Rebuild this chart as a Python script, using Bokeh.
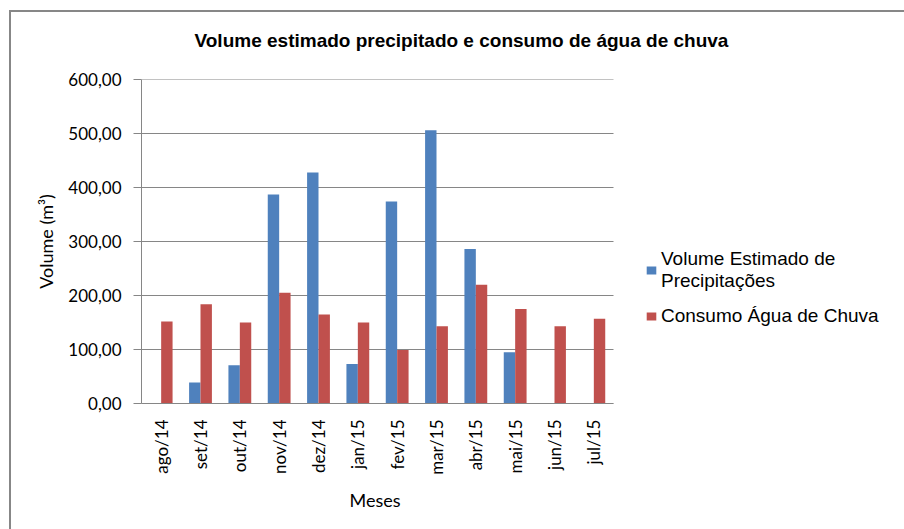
import math
from bokeh.plotting import figure
from bokeh.models import Range1d, Legend, LegendItem, FixedTicker, Title
from bokeh.embed import file_html
from bokeh.resources import INLINE

months = ["ago/14", "set/14", "out/14", "nov/14", "dez/14", "jan/15",
          "fev/15", "mar/15", "abr/15", "mai/15", "jun/15", "jul/15"]
precip = [0, 39, 71, 387, 428, 73, 374, 506, 286, 95, 0, 0]
consumo = [152, 184, 150, 205, 165, 150, 99, 143, 220, 175, 143, 157]
y_ticks = [0, 100, 200, 300, 400, 500, 600]
y_tick_labels = ["0,00", "100,00", "200,00", "300,00", "400,00", "500,00", "600,00"]

title_text = "Volume estimado precipitado e consumo de água de chuva"
x_title = "Meses"
y_title = "Volume (m³)"
series_names = ["Volume Estimado de\nPrecipitações", "Consumo Água de Chuva"]
colors = ["#4F81BD", "#C0504D"]

# layout (pixels)
W, H = 904, 529
LEFT, TOP, RIGHT, BOTTOM = 141, 79, 24, 126
cat_px = 472 / len(months)                 # width of one category slot
frame_w = W - LEFT - RIGHT
n = len(months)
x_lo = -0.5
x_hi = x_lo + frame_w / cat_px             # extra room on the right for the legend
bar_w = 0.29

idx = list(range(n))
p = figure(x_range=Range1d(x_lo, x_hi), y_range=Range1d(0, 600),
           width=W, height=H, output_backend="svg", toolbar_location=None,
           title=title_text,
           min_border_left=LEFT, min_border_right=RIGHT,
           min_border_top=TOP, min_border_bottom=BOTTOM)
p.border_fill_color = None
# chart-area border (left and top edges, as in the spreadsheet screenshot)
p.styles = {
    "background-color": "#ffffff",
    "background-image": "linear-gradient(#878787, #878787), linear-gradient(#878787, #878787)",
    "background-size": "2px 100%, 100% 2px",
    "background-position": "9px 10px, 9px 10px",
    "background-repeat": "no-repeat",
}

# horizontal gridlines over the category span only
p.segment(x0=[x_lo] * len(y_ticks), x1=[n - 0.5] * len(y_ticks), y0=y_ticks, y1=y_ticks,
          line_color="#868686", line_width=1)

xa = [i - bar_w / 2 for i in idx]
xb = [i + bar_w / 2 for i in idx]
r1 = p.vbar(x=xa, top=precip, width=bar_w, fill_color=colors[0], line_color=None)
r2 = p.vbar(x=xb, top=consumo, width=bar_w, fill_color=colors[1], line_color=None)

p.title.align = "left"
p.title.offset = 53
p.title.vertical_align = "top"
p.title.standoff = 54
p.title.text_font = "Liberation Sans"
p.title.text_font_size = "19px"
p.title.text_font_style = "bold"
p.title.text_color = "#000000"

p.outline_line_color = None
p.xgrid.grid_line_color = None
p.ygrid.grid_line_color = None

p.yaxis.ticker = FixedTicker(ticks=y_ticks)
p.yaxis.major_label_overrides = {t: l for t, l in zip(y_ticks, y_tick_labels)}
p.yaxis.axis_line_color = "#868686"
p.yaxis.major_tick_line_color = "#868686"
p.yaxis.major_tick_out = 8
p.yaxis.major_tick_in = 0
p.yaxis.minor_tick_line_color = None
p.yaxis.major_label_standoff = 12
p.yaxis.major_label_text_font = "Lato"
p.yaxis.major_label_text_font_size = "17px"
p.yaxis.major_label_text_color = "#000000"
p.yaxis.axis_label = y_title
p.yaxis.axis_label_text_font = "Lato"
p.yaxis.axis_label_text_font_size = "18px"
p.yaxis.axis_label_text_font_style = "normal"
p.yaxis.axis_label_text_color = "#000000"
p.yaxis.axis_label_standoff = 8

p.xaxis.bounds = (x_lo, n - 0.5)
p.xaxis.ticker = FixedTicker(ticks=idx)
p.xaxis.major_label_overrides = {i: m for i, m in zip(idx, months)}
p.xaxis.axis_line_color = "#868686"
p.xaxis.major_tick_line_color = None
p.xaxis.minor_tick_line_color = None
p.xaxis.major_tick_out = 0
p.xaxis.major_label_orientation = math.pi / 2
p.xaxis.major_label_standoff = 16
p.xaxis.major_label_text_font = "Lato"
p.xaxis.major_label_text_font_size = "17px"
p.xaxis.major_label_text_color = "#000000"

# x-axis title centred under the category span (not the whole frame)
xt = Title(text=x_title, align="left", offset=208, vertical_align="top", standoff=22,
           text_font="Lato", text_font_size="18px", text_font_style="normal",
           text_color="#000000")
p.add_layout(xt, "below")

legend = Legend(items=[LegendItem(label=series_names[0], renderers=[r1]),
                       LegendItem(label=series_names[1], renderers=[r2])],
                location=(504, 76), orientation="vertical",
                glyph_width=12, glyph_height=10, label_standoff=4,
                label_text_font="Liberation Sans", label_text_font_size="19px",
                label_text_line_height=1.2,
                label_text_color="#000000", spacing=13, padding=0, margin=0,
                border_line_color=None, background_fill_alpha=0)
p.add_layout(legend, "center")

open("out.html", "w").write(file_html(p, INLINE))
